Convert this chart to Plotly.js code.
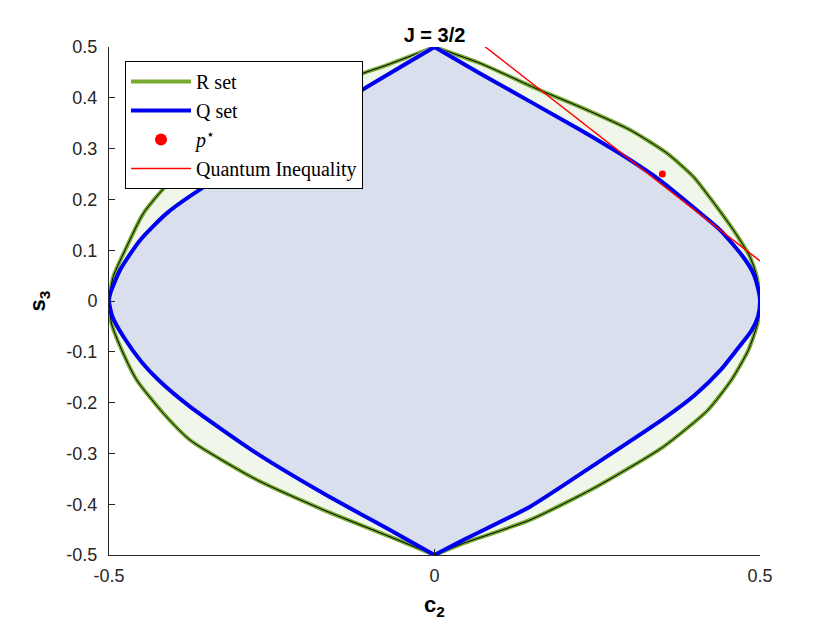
<!DOCTYPE html>
<html>
<head>
<meta charset="utf-8">
<script src="https://cdn.plot.ly/plotly-3.0.1.min.js"></script>
<style>html,body{margin:0;padding:0;background:#fff;}#chart{width:840px;height:630px;}</style>
</head>
<body>
<div id="chart"></div>
<script>
// R set boundary: right half (top apex -> bottom apex)
const rRightX = [0, 0.07, 0.162, 0.2235, 0.30, 0.357, 0.3975, 0.428, 0.459, 0.4846, 0.495, 0.5,
  0.496, 0.482, 0.456, 0.42, 0.3515, 0.249, 0.1467, 0.0443, 0];
const rRightY = [0.5, 0.468, 0.415, 0.382, 0.337, 0.291, 0.245, 0.195, 0.14, 0.087, 0.048, 0,
  -0.045, -0.097, -0.1555, -0.2146, -0.287, -0.3655, -0.431, -0.477, -0.5];
// R set boundary: left half (bottom apex -> top apex)
const rLeftX = [0, -0.0684, -0.171, -0.273, -0.3756, -0.4166, -0.4575, -0.481, -0.496, -0.5,
  -0.4934, -0.4728, -0.447, -0.411, -0.3515, -0.249, -0.1467, -0.07, 0];
const rLeftY = [-0.5, -0.464, -0.411, -0.352, -0.2736, -0.221, -0.1555, -0.095, -0.045, 0,
  0.048, 0.107, 0.173, 0.228, 0.287, 0.3655, 0.431, 0.466, 0.5];
// Q set boundary: right half
const qRightX = [0, 0.07, 0.2235, 0.30, 0.346, 0.4027, 0.4385, 0.474, 0.4897, 0.497, 0.5,
  0.497, 0.486, 0.464, 0.44, 0.4, 0.3515, 0.249, 0.1467, 0.0443, 0];
const qRightY = [0.5, 0.448, 0.337, 0.278, 0.238, 0.179, 0.14, 0.087, 0.0545, 0.025, 0,
  -0.03, -0.06, -0.0965, -0.135, -0.185, -0.232, -0.3195, -0.405, -0.4705, -0.5];
// Q set boundary: left half
const qLeftX = [0, -0.0684, -0.171, -0.273, -0.3756, -0.424, -0.45, -0.478, -0.495, -0.5,
  -0.498, -0.483, -0.452, -0.411, -0.35, -0.25, -0.112, 0];
const qLeftY = [-0.5, -0.451, -0.3785, -0.30, -0.208, -0.1555, -0.12, -0.07, -0.03, 0,
  0.015, 0.061, 0.12, 0.173, 0.228, 0.305, 0.415, 0.5];
// Quantum inequality line endpoints
const ineqX = [0.0776, 0.5];
const ineqY = [0.5006, 0.0787];
// p* point
const pX = [0.35];
const pY = [0.25];
// ticks
const xTicks = [-0.5, 0, 0.5];
const xTickText = ["-0.5", "0", "0.5"];
const yTicks = [-0.5, -0.4, -0.3, -0.2, -0.1, 0, 0.1, 0.2, 0.3, 0.4, 0.5];
const yTickText = ["-0.5", "-0.4", "-0.3", "-0.2", "-0.1", "0", "0.1", "0.2", "0.3", "0.4", "0.5"];

const serif = "Liberation Serif, DejaVu Serif, serif";
const sans = "Liberation Sans, Arial, sans-serif";

// closed curve for fill; halves separated by a gap for sharp apex corners in the outline
const closed = (a, b) => a.concat(b.slice(1));
const split = (a, b) => a.concat([null], b);

const rFX = closed(rRightX, rLeftX), rFY = closed(rRightY, rLeftY);
const qFX = closed(qRightX, qLeftX), qFY = closed(qRightY, qLeftY);
const rSX = split(rRightX, rLeftX), rSY = split(rRightY, rLeftY);
const qSX = split(qRightX, qLeftX), qSY = split(qRightY, qLeftY);
const sp = {shape: 'spline', smoothing: 0.6};

const traces = [
  {x: rFX, y: rFY, type: 'scatter', mode: 'lines', fill: 'toself', fillcolor: 'rgb(240,246,234)',
   line: Object.assign({width: 0}, sp), showlegend: false, hoverinfo: 'skip'},
  {x: rSX, y: rSY, type: 'scatter', mode: 'lines', name: 'R set', legendgroup: 'r', connectgaps: false,
   line: Object.assign({color: '#77AC30', width: 4}, sp)},
  {x: rSX, y: rSY, type: 'scatter', mode: 'lines', showlegend: false, connectgaps: false,
   line: Object.assign({color: '#000000', width: 1}, sp)},
  {x: qFX, y: qFY, type: 'scatter', mode: 'lines', fill: 'toself', fillcolor: 'rgb(217,223,237)',
   line: Object.assign({width: 0}, sp), showlegend: false, hoverinfo: 'skip'},
  {x: qSX, y: qSY, type: 'scatter', mode: 'lines', name: 'Q set', legendgroup: 'q', connectgaps: false,
   line: Object.assign({color: '#0000F0', width: 4}, sp)},
  {x: pX, y: pY, type: 'scatter', mode: 'markers', showlegend: false,
   marker: {color: '#FF0000', size: 7}},
  {x: [null], y: [null], type: 'scatter', mode: 'markers', name: '<i>p</i><sup>⋆</sup>', legendgroup: 'p',
   marker: {color: '#FF0000', size: 12}},
  {x: ineqX, y: ineqY, type: 'scatter', mode: 'lines', name: 'Quantum Inequality', legendgroup: 'i',
   line: {color: '#FF0000', width: 1.5}}
];

const layout = {
  width: 840, height: 630,
  margin: {l: 109, r: 80, t: 47, b: 75},
  paper_bgcolor: '#ffffff', plot_bgcolor: '#ffffff',
  title: {text: '<b>J = 3/2</b>', font: {family: sans, size: 20, color: '#000'},
          x: 0.5, xref: 'paper', xanchor: 'center', y: 0.945, yanchor: 'middle'},
  xaxis: {range: [-0.5, 0.5], tickvals: xTicks, ticktext: xTickText,
          showgrid: false, zeroline: false, showline: true, linecolor: '#262626', linewidth: 1,
          ticks: 'inside', ticklen: 6, tickcolor: '#262626', mirror: false, ticklabelstandoff: 4,
          tickfont: {family: sans, size: 18, color: '#262626'},
          title: {text: '<b>c<sub>2</sub></b>', font: {family: sans, size: 22, color: '#000'}, standoff: 12}},
  yaxis: {range: [-0.5, 0.5], tickvals: yTicks, ticktext: yTickText,
          showgrid: false, zeroline: false, showline: true, linecolor: '#262626', linewidth: 1,
          ticks: 'inside', ticklen: 6, tickcolor: '#262626', mirror: false, ticklabelstandoff: 7,
          tickfont: {family: sans, size: 18, color: '#262626'},
          title: {text: '<b>s<sub>3</sub></b>', font: {family: sans, size: 22, color: '#000'}, standoff: 14}},
  legend: {x: 0.0246, y: 0.9724, xanchor: 'left', yanchor: 'top',
           bgcolor: '#ffffff', bordercolor: '#000000', borderwidth: 1, itemwidth: 60,
           font: {family: serif, size: 20, color: '#000'}, tracegroupgap: 0},
  showlegend: true
};

Plotly.newPlot('chart', traces, layout, {displayModeBar: false, staticPlot: true});
</script>
</body>
</html>
